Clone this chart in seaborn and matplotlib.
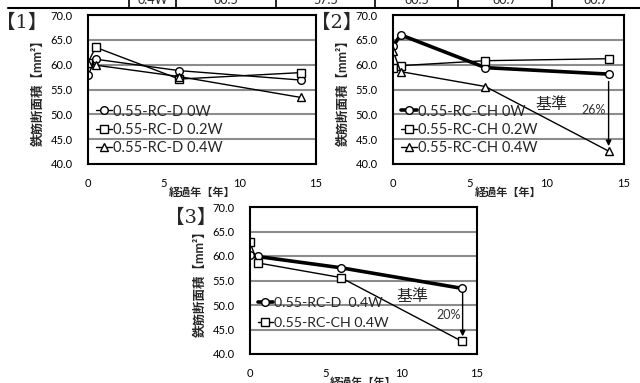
import numpy as np
import pandas as pd
import matplotlib
matplotlib.use('Agg')
import matplotlib.pyplot as plt
import seaborn as sns
from matplotlib.lines import Line2D

# ---- data ----
years = [0, 0.5, 6, 14]
d_0w = [57.9, 61.1, 58.8, 56.9]
d_02w = [60.4, 63.5, 57.1, 58.4]
d_04w = [60.3, 59.9, 57.6, 53.4]
ch_0w = [63.7, 66.0, 59.4, 58.1]
ch_02w = [59.3, 59.8, 60.8, 61.2]
ch_04w = [62.8, 58.6, 55.6, 42.6]
x_ticks = [0, 5, 10, 15]
y_ticks = [40, 45, 50, 55, 60, 65, 70]
table_cells = ['0.4W', '60.5', '57.5', '60.5', '60.7', '60.7']
labels1 = ['0.55-RC-D 0W', '0.55-RC-D 0.2W', '0.55-RC-D 0.4W']
labels2 = ['0.55-RC-CH 0W', '0.55-RC-CH 0.2W', '0.55-RC-CH 0.4W']
labels3 = ['0.55-RC-D  0.4W', '0.55-RC-CH 0.4W']

sns.set_style('white')
plt.rcParams['font.family'] = ['Lato', 'Noto Sans CJK JP', 'DejaVu Sans']

W, H = 640, 383
fig = plt.figure(figsize=(6.4, 3.83), dpi=100)

def axes_px(l, r, t, b):
    return fig.add_axes([l / W, (H - b) / H, (r - l) / W, (b - t) / H])

ax1 = axes_px(88, 316, 15, 164)
ax2 = axes_px(393, 624, 15, 164)
ax3 = axes_px(250, 477, 207, 354)

def series(ax, y, marker, label, lw=1.0):
    df = pd.DataFrame({'x': years, 'y': y})
    sns.lineplot(data=df, x='x', y='y', ax=ax, color='black', lw=lw,
                 marker=marker, markersize=5.5, markerfacecolor='white',
                 markeredgecolor='black', markeredgewidth=1.0,
                 label=label, errorbar=None, sort=False)

def style(ax, wpx):
    ax.set_xlim(0, 15)
    ax.set_ylim(40, 70)
    ax.set_xticks(x_ticks)
    ax.set_yticks(y_ticks)
    ax.set_yticklabels([f'{v:.1f}' for v in y_ticks])
    ax.grid(axis='y', color='#8c8c8c', lw=1.5)
    ax.grid(axis='x', visible=False)
    ax.set_axisbelow(True)
    for s in ax.spines.values():
        s.set_color('black')
        s.set_linewidth(1.5)
    ax.tick_params(axis='x', direction='in', length=4, width=1, pad=10,
                   labelsize=8, colors='black')
    ax.tick_params(axis='y', length=0, pad=11, labelsize=8, colors='black')
    ax.set_xlabel('経過年【年】', fontsize=8, fontweight='bold')
    ax.xaxis.set_label_coords(0.5, -0.19)
    ax.xaxis.label.set_va('center')
    ax.set_ylabel('鉄筋断面積【mm²】', fontsize=9, fontweight='bold')
    ax.yaxis.set_label_coords(-50 / wpx, 0.5)
    ax.yaxis.label.set_va('center')

def legend(ax, spacing, y0, fs=10.5):
    ax.legend(loc='lower left', bbox_to_anchor=(-0.01, y0), frameon=False,
              fontsize=fs, handlelength=1.1, handletextpad=0.05,
              labelspacing=spacing, borderaxespad=0.3)

# panel 1
series(ax1, d_0w, 'o', labels1[0])
series(ax1, d_02w, 's', labels1[1])
series(ax1, d_04w, '^', labels1[2])
style(ax1, 228)
legend(ax1, 0.3, -0.01)

# panel 2
series(ax2, ch_0w, 'o', labels2[0], lw=2.6)
series(ax2, ch_02w, 's', labels2[1])
series(ax2, ch_04w, '^', labels2[2])
style(ax2, 231)
legend(ax2, 0.3, -0.01)
ax2.text(10.3, 52.0, '基準', fontsize=11.5, ha='center', va='center')
ax2.annotate('', xy=(14, 43.6), xytext=(14, 56.6),
             arrowprops=dict(arrowstyle='-|>', color='black', lw=1.0,
                             mutation_scale=8, shrinkA=0, shrinkB=0))
ax2.text(13.0, 50.9, '26%', fontsize=9, ha='center', va='center', color='#333333')

# panel 3
series(ax3, d_04w, 'o', labels3[0], lw=2.6)
series(ax3, ch_04w, 's', labels3[1])
style(ax3, 227)
legend(ax3, 0.6, 0.10, fs=10.2)
ax3.text(10.7, 51.7, '基準', fontsize=11.5, ha='center', va='center')
ax3.annotate('', xy=(14.05, 43.6), xytext=(14.05, 52.4),
             arrowprops=dict(arrowstyle='-|>', color='black', lw=1.0,
                             mutation_scale=8, shrinkA=0, shrinkB=0))
ax3.text(13.1, 47.9, '20%', fontsize=9, ha='center', va='center', color='#333333')

# panel labels
for txt, (px, py) in zip(['【1】', '【2】', '【3】'], [(22, 23), (337, 23), (191, 218)]):
    fig.text(px / W, 1 - py / H, txt, fontsize=14,
             family=['DejaVu Serif', 'Noto Sans CJK JP'], ha='center', va='center')

# cut-off table strip at the top
fig.add_artist(Line2D([8 / W, 1.0], [1 - 8 / H, 1 - 8 / H], color='black', lw=1.5))
edges = [129, 176, 276, 375, 458, 552, 640]
for xe in edges[:-1]:
    fig.add_artist(Line2D([xe / W, xe / W], [1 - 8 / H, 1.0], color='black', lw=1.2))
for i, txt in enumerate(table_cells):
    cx = (edges[i] + edges[i + 1]) / 2
    fig.text(cx / W, 1 - 3.5 / H, txt, fontsize=9, ha='center', va='baseline')

fig.savefig('out.png', dpi=100)
